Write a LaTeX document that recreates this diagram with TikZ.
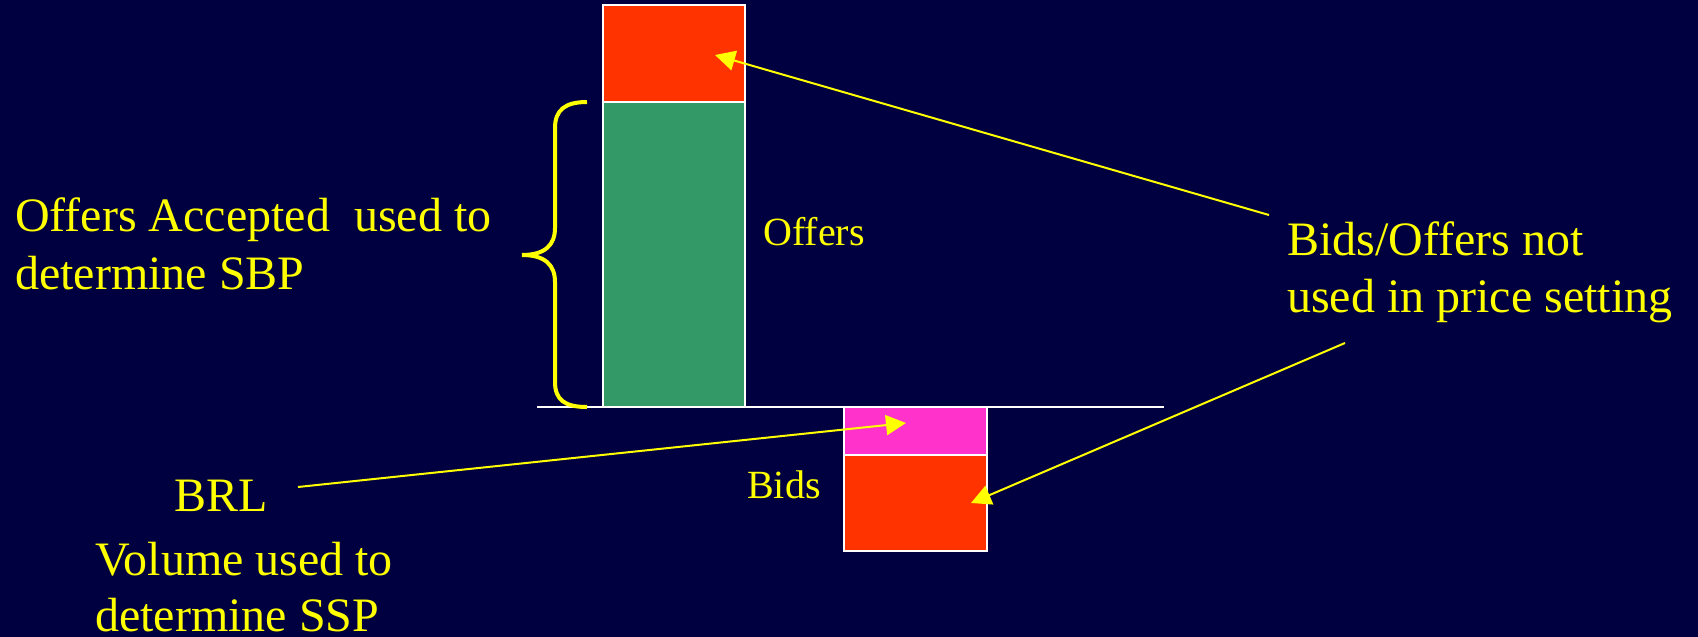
\documentclass[tikz,border=0pt]{standalone}
\usepackage{fontspec}
\setmainfont{Liberation Serif}
\usetikzlibrary{arrows.meta}
\definecolor{bgnavy}{RGB}{0,0,64}
\definecolor{barred}{RGB}{255,51,0}
\definecolor{bargreen}{RGB}{51,153,102}
\definecolor{barpink}{RGB}{255,51,204}
\definecolor{lblyellow}{RGB}{255,255,0}
\tikzset{
  bar/.style={draw=white, line width=2pt},
  big/.style={text=lblyellow, font=\fontsize{48}{57}\selectfont, inner sep=0pt, anchor=base west},
  small/.style={text=lblyellow, font=\fontsize{40}{48}\selectfont, inner sep=0pt, anchor=base west},
  pointer/.style={draw=lblyellow, line width=2pt, -{Triangle[length=20pt,width=20pt]}},
  bracepath/.style={draw=lblyellow, line width=4pt}
}
\begin{document}
\begin{tikzpicture}[x=1pt,y=-1pt]
\fill[bgnavy] (0,0) rectangle (1698,637);
\useasboundingbox (0,0) rectangle (1698,637);
% bars
\path[bar, fill=barred] (603,5) rectangle (745,102);
\path[bar, fill=bargreen] (603,102) rectangle (745,407);
\path[bar, fill=barpink] (844,407) rectangle (987,455);
\path[bar, fill=barred] (844,455) rectangle (987,551);
\draw[white, line width=2.5pt] (537,407) -- (1164,407);
% brace
\draw[bracepath] (587,102) .. controls (565,102) and (555,110) .. (555,128)
  -- (555,228) .. controls (555,245) and (545,255) .. (522,255)
  .. controls (545,255) and (555,265) .. (555,282)
  -- (555,382) .. controls (555,400) and (565,407) .. (587,407);
% labels
\node[big] (acc1) at (15,231.5) {Offers Accepted\ \ used to};
\node[big] (acc2) at (15,289) {determine SBP};
\node[small] (offl) at (763,245) {Offers};
\node[small] (bidl) at (747,498) {Bids};
\node[big] (nu1) at (1287,255) {Bids/Offers not};
\node[big] (nu2) at (1287,312.5) {used in price setting};
\node[big] (brl) at (174,511.5) {BRL};
\node[big] (vol1) at (95,575) {Volume used to};
\node[big] (vol2) at (95,631.5) {determine SSP};
% arrow ends
\coordinate (t1) at (1269,215);
\coordinate (h1) at (715,55);
\coordinate (t2) at (1345,343);
\coordinate (h2) at (971,503);
\coordinate (t3) at (298,487);
\coordinate (h3) at (906,423);
\draw[pointer] (t1) -- (h1);
\draw[pointer] (t2) -- (h2);
\draw[pointer] (t3) -- (h3);
\end{tikzpicture}
\end{document}
